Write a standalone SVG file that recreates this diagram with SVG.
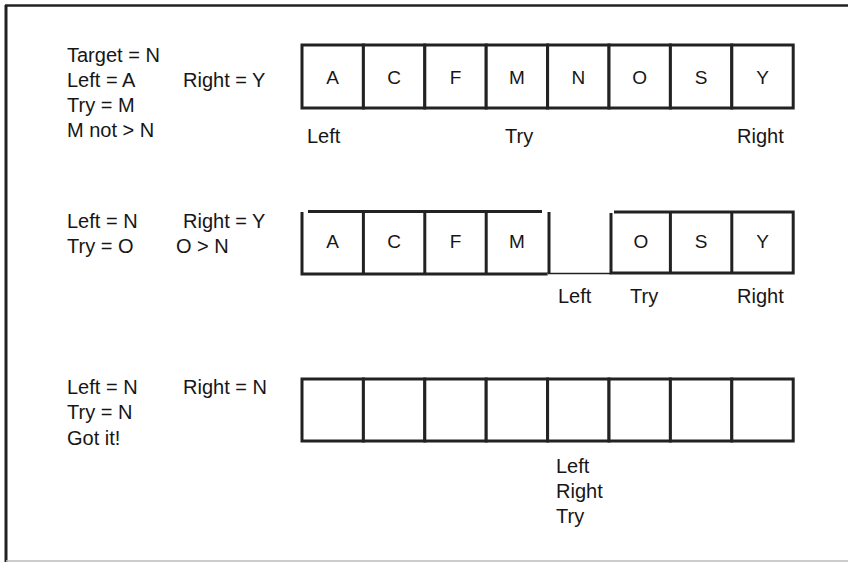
<svg xmlns="http://www.w3.org/2000/svg" width="848" height="562" viewBox="0 0 848 562">
<style>
text{font-family:"Liberation Sans",Arial,sans-serif;font-size:20px;fill:#161616}
.c{text-anchor:middle;font-size:19px}
.box{fill:#fff;stroke:#222;stroke-width:3}
.ln{stroke:#222;stroke-width:3;fill:none}
.thin{stroke:#222;stroke-width:1.6;fill:none}
</style>
<rect width="848" height="562" fill="#fff"/>
<g id="frame">
<line x1="6" y1="5" x2="6" y2="562" stroke="#222" stroke-width="3"/>
<line x1="5" y1="5.5" x2="848" y2="5.5" stroke="#222" stroke-width="2.5"/>
<line x1="6" y1="561" x2="848" y2="561" stroke="#bbb" stroke-width="1.5"/>
</g>
<g id="step1">
<text x="67" y="62">Target = N</text>
<text x="67" y="87">Left = A</text>
<text x="183" y="87">Right = Y</text>
<text x="67" y="112">Try = M</text>
<text x="67" y="137">M not &gt; N</text>
<g id="row1">
<rect class="box" x="302" y="45" width="61.4" height="63"/>
<rect class="box" x="363.4" y="45" width="61.4" height="63"/>
<rect class="box" x="424.8" y="45" width="61.4" height="63"/>
<rect class="box" x="486.2" y="45" width="61.4" height="63"/>
<rect class="box" x="547.6" y="45" width="61.4" height="63"/>
<rect class="box" x="609" y="45" width="61.4" height="63"/>
<rect class="box" x="670.4" y="45" width="61.4" height="63"/>
<rect class="box" x="731.8" y="45" width="61.4" height="63"/>
<text class="c" x="332.7" y="84">A</text>
<text class="c" x="394.1" y="84">C</text>
<text class="c" x="455.5" y="84">F</text>
<text class="c" x="516.9" y="84">M</text>
<text class="c" x="578.3" y="84">N</text>
<text class="c" x="639.7" y="84">O</text>
<text class="c" x="701.1" y="84">S</text>
<text class="c" x="762.5" y="84">Y</text>
</g>
<text x="307" y="143">Left</text>
<text x="505" y="143">Try</text>
<text x="737" y="143">Right</text>
</g>
<g id="step2">
<text x="67" y="228">Left = N</text>
<text x="183" y="228">Right = Y</text>
<text x="67" y="253">Try = O</text>
<text x="176" y="253">O &gt; N</text>
<g id="row2">
<line class="thin" x1="547.6" y1="273.5" x2="611" y2="273.5"/>
<path class="ln" d="M302 212 V274 H547.6 M308 211.5 H542 M363.4 212 V274 M424.8 212 V274 M486.2 212 V274 M549 212 V273"/>
<path class="ln" d="M611 213 V273 H793.2 V212 H614 M670.4 212 V273 M731.8 212 V273"/>
<text class="c" x="332.7" y="248">A</text>
<text class="c" x="394.1" y="248">C</text>
<text class="c" x="455.5" y="248">F</text>
<text class="c" x="516.9" y="248">M</text>
<text class="c" x="641" y="248">O</text>
<text class="c" x="701.1" y="248">S</text>
<text class="c" x="762.5" y="248">Y</text>
</g>
<text x="558" y="303">Left</text>
<text x="630" y="303">Try</text>
<text x="737" y="303">Right</text>
</g>
<g id="step3">
<text x="67" y="394">Left = N</text>
<text x="183" y="394">Right = N</text>
<text x="67" y="419">Try = N</text>
<text x="67" y="445">Got it!</text>
<g id="row3">
<rect class="box" x="302" y="379" width="61.4" height="62"/>
<rect class="box" x="363.4" y="379" width="61.4" height="62"/>
<rect class="box" x="424.8" y="379" width="61.4" height="62"/>
<rect class="box" x="486.2" y="379" width="61.4" height="62"/>
<rect class="box" x="547.6" y="379" width="61.4" height="62"/>
<rect class="box" x="609" y="379" width="61.4" height="62"/>
<rect class="box" x="670.4" y="379" width="61.4" height="62"/>
<rect class="box" x="731.8" y="379" width="61.4" height="62"/>
</g>
<text x="556" y="473">Left</text>
<text x="556" y="498">Right</text>
<text x="556" y="523">Try</text>
</g>
</svg>
